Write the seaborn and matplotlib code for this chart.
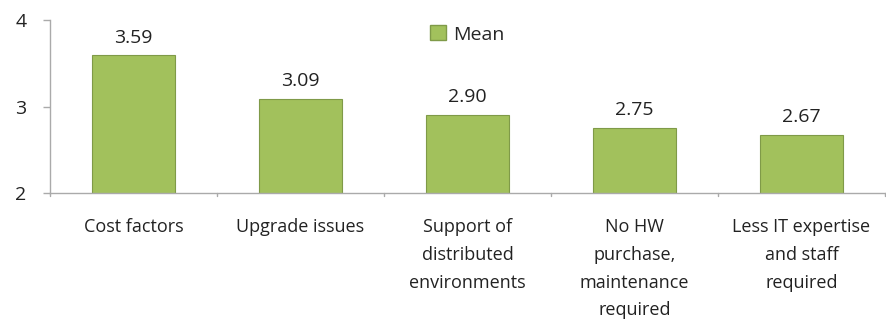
import matplotlib
matplotlib.use("Agg")
import matplotlib.pyplot as plt
import seaborn as sns
import pandas as pd
from matplotlib.patches import Patch

categories = ["Cost factors", "Upgrade issues", "Support of\ndistributed\nenvironments",
              "No HW\npurchase,\nmaintenance\nrequired", "Less IT expertise\nand staff\nrequired"]
means = [3.59, 3.09, 2.90, 2.75, 2.67]
value_labels = ["3.59", "3.09", "2.90", "2.75", "2.67"]

sns.set_theme(style="white")
plt.rcParams['font.family'] = ['Open Sans', 'DejaVu Sans']

df = pd.DataFrame({"cat": categories, "Mean": means})

fig = plt.figure(figsize=(8.87, 3.26), dpi=100)
ax = fig.add_axes([50/887, 1-193/326, 835/887, 173/326])
sns.barplot(data=df, x="cat", y="Mean", color="#A2C15C", width=0.5,
            edgecolor="#7F9A48", linewidth=0.8, ax=ax, saturation=1)
ax.set_ylim(2, 4)
ax.set_xlim(-0.5, 4.5)
ax.set_yticks([2, 3, 4])
ax.set_yticklabels(["2", "3", "4"], fontsize=14, color="#222222")
ax.set_xlabel("")
ax.set_ylabel("")
ax.set_xticks(range(5))
ax.set_xticklabels(categories, fontsize=13, color="#222222", linespacing=1.7)
ax.tick_params(axis='x', length=0, pad=18)
ax.tick_params(axis='y', length=5, width=1, color="#AAAAAA", left=True, pad=12)
for x in [-0.5, 0.5, 1.5, 2.5, 3.5, 4.5]:
    ax.plot([x, x], [2, 1.96], color="#AAAAAA", lw=1, clip_on=False)
for s in ["top", "right"]:
    ax.spines[s].set_visible(False)
for s in ["left", "bottom"]:
    ax.spines[s].set_color("#AAAAAA")
    ax.spines[s].set_linewidth(1)

for i, (v, lab) in enumerate(zip(means, value_labels)):
    ax.text(i, v + 0.1, lab, ha="center", va="bottom", fontsize=14, color="#222222")

leg = ax.legend(handles=[Patch(facecolor="#A2C15C", edgecolor="#7F9A48", label="Mean")],
                loc="upper center", bbox_to_anchor=(0.5, 1.07), frameon=False,
                fontsize=14, handlelength=0.8, handleheight=0.8, handletextpad=0.4)
fig.savefig("out.png", dpi=100)
